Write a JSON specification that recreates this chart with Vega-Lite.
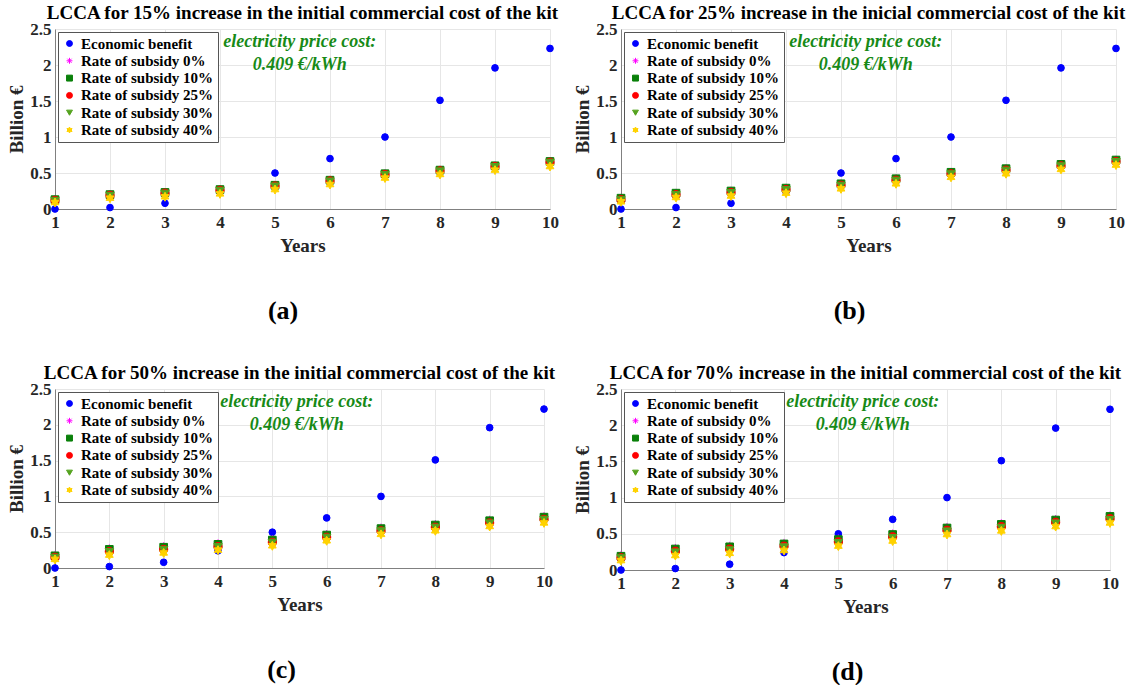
{
  "$schema": "https://vega.github.io/schema/vega-lite/v6.json",
  "background": "white",
  "padding": {"left": 7, "top": 4, "right": 0, "bottom": 0},
  "datasets": {
    "pts": [
      {"panel": "a", "year": 1, "Economic benefit": 0.0, "Rate of subsidy 0%": 0.14, "Rate of subsidy 10%": 0.13, "Rate of subsidy 25%": 0.12, "Rate of subsidy 30%": 0.11, "Rate of subsidy 40%": 0.09},
      {"panel": "a", "year": 2, "Economic benefit": 0.02, "Rate of subsidy 0%": 0.21, "Rate of subsidy 10%": 0.2, "Rate of subsidy 25%": 0.19, "Rate of subsidy 30%": 0.18, "Rate of subsidy 40%": 0.15},
      {"panel": "a", "year": 3, "Economic benefit": 0.08, "Rate of subsidy 0%": 0.24, "Rate of subsidy 10%": 0.23, "Rate of subsidy 25%": 0.22, "Rate of subsidy 30%": 0.21, "Rate of subsidy 40%": 0.17},
      {"panel": "a", "year": 4, "Economic benefit": 0.24, "Rate of subsidy 0%": 0.28, "Rate of subsidy 10%": 0.27, "Rate of subsidy 25%": 0.26, "Rate of subsidy 30%": 0.25, "Rate of subsidy 40%": 0.21},
      {"panel": "a", "year": 5, "Economic benefit": 0.5, "Rate of subsidy 0%": 0.34, "Rate of subsidy 10%": 0.33, "Rate of subsidy 25%": 0.32, "Rate of subsidy 30%": 0.31, "Rate of subsidy 40%": 0.27},
      {"panel": "a", "year": 6, "Economic benefit": 0.7, "Rate of subsidy 0%": 0.41, "Rate of subsidy 10%": 0.4, "Rate of subsidy 25%": 0.39, "Rate of subsidy 30%": 0.38, "Rate of subsidy 40%": 0.34},
      {"panel": "a", "year": 7, "Economic benefit": 1.0, "Rate of subsidy 0%": 0.5, "Rate of subsidy 10%": 0.49, "Rate of subsidy 25%": 0.48, "Rate of subsidy 30%": 0.47, "Rate of subsidy 40%": 0.43},
      {"panel": "a", "year": 8, "Economic benefit": 1.51, "Rate of subsidy 0%": 0.55, "Rate of subsidy 10%": 0.54, "Rate of subsidy 25%": 0.53, "Rate of subsidy 30%": 0.52, "Rate of subsidy 40%": 0.48},
      {"panel": "a", "year": 9, "Economic benefit": 1.96, "Rate of subsidy 0%": 0.61, "Rate of subsidy 10%": 0.6, "Rate of subsidy 25%": 0.59, "Rate of subsidy 30%": 0.58, "Rate of subsidy 40%": 0.54},
      {"panel": "a", "year": 10, "Economic benefit": 2.23, "Rate of subsidy 0%": 0.67, "Rate of subsidy 10%": 0.66, "Rate of subsidy 25%": 0.65, "Rate of subsidy 30%": 0.64, "Rate of subsidy 40%": 0.59},
      {"panel": "b", "year": 1, "Economic benefit": 0.0, "Rate of subsidy 0%": 0.16, "Rate of subsidy 10%": 0.15, "Rate of subsidy 25%": 0.13, "Rate of subsidy 30%": 0.12, "Rate of subsidy 40%": 0.1},
      {"panel": "b", "year": 2, "Economic benefit": 0.02, "Rate of subsidy 0%": 0.23, "Rate of subsidy 10%": 0.22, "Rate of subsidy 25%": 0.2, "Rate of subsidy 30%": 0.19, "Rate of subsidy 40%": 0.16},
      {"panel": "b", "year": 3, "Economic benefit": 0.08, "Rate of subsidy 0%": 0.26, "Rate of subsidy 10%": 0.25, "Rate of subsidy 25%": 0.23, "Rate of subsidy 30%": 0.22, "Rate of subsidy 40%": 0.18},
      {"panel": "b", "year": 4, "Economic benefit": 0.24, "Rate of subsidy 0%": 0.3, "Rate of subsidy 10%": 0.29, "Rate of subsidy 25%": 0.27, "Rate of subsidy 30%": 0.26, "Rate of subsidy 40%": 0.22},
      {"panel": "b", "year": 5, "Economic benefit": 0.5, "Rate of subsidy 0%": 0.36, "Rate of subsidy 10%": 0.35, "Rate of subsidy 25%": 0.33, "Rate of subsidy 30%": 0.32, "Rate of subsidy 40%": 0.28},
      {"panel": "b", "year": 6, "Economic benefit": 0.7, "Rate of subsidy 0%": 0.43, "Rate of subsidy 10%": 0.42, "Rate of subsidy 25%": 0.4, "Rate of subsidy 30%": 0.39, "Rate of subsidy 40%": 0.35},
      {"panel": "b", "year": 7, "Economic benefit": 1.0, "Rate of subsidy 0%": 0.52, "Rate of subsidy 10%": 0.51, "Rate of subsidy 25%": 0.49, "Rate of subsidy 30%": 0.48, "Rate of subsidy 40%": 0.44},
      {"panel": "b", "year": 8, "Economic benefit": 1.51, "Rate of subsidy 0%": 0.57, "Rate of subsidy 10%": 0.56, "Rate of subsidy 25%": 0.54, "Rate of subsidy 30%": 0.53, "Rate of subsidy 40%": 0.49},
      {"panel": "b", "year": 9, "Economic benefit": 1.96, "Rate of subsidy 0%": 0.63, "Rate of subsidy 10%": 0.62, "Rate of subsidy 25%": 0.6, "Rate of subsidy 30%": 0.59, "Rate of subsidy 40%": 0.55},
      {"panel": "b", "year": 10, "Economic benefit": 2.23, "Rate of subsidy 0%": 0.69, "Rate of subsidy 10%": 0.68, "Rate of subsidy 25%": 0.66, "Rate of subsidy 30%": 0.65, "Rate of subsidy 40%": 0.61},
      {"panel": "c", "year": 1, "Economic benefit": 0.0, "Rate of subsidy 0%": 0.19, "Rate of subsidy 10%": 0.17, "Rate of subsidy 25%": 0.15, "Rate of subsidy 30%": 0.14, "Rate of subsidy 40%": 0.12},
      {"panel": "c", "year": 2, "Economic benefit": 0.02, "Rate of subsidy 0%": 0.28, "Rate of subsidy 10%": 0.26, "Rate of subsidy 25%": 0.23, "Rate of subsidy 30%": 0.22, "Rate of subsidy 40%": 0.18},
      {"panel": "c", "year": 3, "Economic benefit": 0.08, "Rate of subsidy 0%": 0.31, "Rate of subsidy 10%": 0.29, "Rate of subsidy 25%": 0.26, "Rate of subsidy 30%": 0.25, "Rate of subsidy 40%": 0.21},
      {"panel": "c", "year": 4, "Economic benefit": 0.24, "Rate of subsidy 0%": 0.35, "Rate of subsidy 10%": 0.33, "Rate of subsidy 25%": 0.3, "Rate of subsidy 30%": 0.29, "Rate of subsidy 40%": 0.25},
      {"panel": "c", "year": 5, "Economic benefit": 0.5, "Rate of subsidy 0%": 0.41, "Rate of subsidy 10%": 0.39, "Rate of subsidy 25%": 0.36, "Rate of subsidy 30%": 0.35, "Rate of subsidy 40%": 0.31},
      {"panel": "c", "year": 6, "Economic benefit": 0.7, "Rate of subsidy 0%": 0.48, "Rate of subsidy 10%": 0.46, "Rate of subsidy 25%": 0.43, "Rate of subsidy 30%": 0.42, "Rate of subsidy 40%": 0.38},
      {"panel": "c", "year": 7, "Economic benefit": 1.0, "Rate of subsidy 0%": 0.57, "Rate of subsidy 10%": 0.55, "Rate of subsidy 25%": 0.52, "Rate of subsidy 30%": 0.51, "Rate of subsidy 40%": 0.47},
      {"panel": "c", "year": 8, "Economic benefit": 1.51, "Rate of subsidy 0%": 0.62, "Rate of subsidy 10%": 0.6, "Rate of subsidy 25%": 0.57, "Rate of subsidy 30%": 0.56, "Rate of subsidy 40%": 0.52},
      {"panel": "c", "year": 9, "Economic benefit": 1.96, "Rate of subsidy 0%": 0.68, "Rate of subsidy 10%": 0.66, "Rate of subsidy 25%": 0.63, "Rate of subsidy 30%": 0.62, "Rate of subsidy 40%": 0.58},
      {"panel": "c", "year": 10, "Economic benefit": 2.22, "Rate of subsidy 0%": 0.73, "Rate of subsidy 10%": 0.71, "Rate of subsidy 25%": 0.68, "Rate of subsidy 30%": 0.67, "Rate of subsidy 40%": 0.63},
      {"panel": "d", "year": 1, "Economic benefit": 0.0, "Rate of subsidy 0%": 0.21, "Rate of subsidy 10%": 0.19, "Rate of subsidy 25%": 0.17, "Rate of subsidy 30%": 0.16, "Rate of subsidy 40%": 0.13},
      {"panel": "d", "year": 2, "Economic benefit": 0.02, "Rate of subsidy 0%": 0.31, "Rate of subsidy 10%": 0.29, "Rate of subsidy 25%": 0.26, "Rate of subsidy 30%": 0.24, "Rate of subsidy 40%": 0.2},
      {"panel": "d", "year": 3, "Economic benefit": 0.08, "Rate of subsidy 0%": 0.34, "Rate of subsidy 10%": 0.32, "Rate of subsidy 25%": 0.29, "Rate of subsidy 30%": 0.27, "Rate of subsidy 40%": 0.23},
      {"panel": "d", "year": 4, "Economic benefit": 0.24, "Rate of subsidy 0%": 0.38, "Rate of subsidy 10%": 0.36, "Rate of subsidy 25%": 0.33, "Rate of subsidy 30%": 0.31, "Rate of subsidy 40%": 0.27},
      {"panel": "d", "year": 5, "Economic benefit": 0.5, "Rate of subsidy 0%": 0.44, "Rate of subsidy 10%": 0.42, "Rate of subsidy 25%": 0.39, "Rate of subsidy 30%": 0.37, "Rate of subsidy 40%": 0.33},
      {"panel": "d", "year": 6, "Economic benefit": 0.7, "Rate of subsidy 0%": 0.51, "Rate of subsidy 10%": 0.49, "Rate of subsidy 25%": 0.46, "Rate of subsidy 30%": 0.44, "Rate of subsidy 40%": 0.4},
      {"panel": "d", "year": 7, "Economic benefit": 1.0, "Rate of subsidy 0%": 0.6, "Rate of subsidy 10%": 0.58, "Rate of subsidy 25%": 0.55, "Rate of subsidy 30%": 0.53, "Rate of subsidy 40%": 0.49},
      {"panel": "d", "year": 8, "Economic benefit": 1.51, "Rate of subsidy 0%": 0.65, "Rate of subsidy 10%": 0.63, "Rate of subsidy 25%": 0.6, "Rate of subsidy 30%": 0.58, "Rate of subsidy 40%": 0.54},
      {"panel": "d", "year": 9, "Economic benefit": 1.96, "Rate of subsidy 0%": 0.71, "Rate of subsidy 10%": 0.69, "Rate of subsidy 25%": 0.66, "Rate of subsidy 30%": 0.64, "Rate of subsidy 40%": 0.6},
      {"panel": "d", "year": 10, "Economic benefit": 2.22, "Rate of subsidy 0%": 0.76, "Rate of subsidy 10%": 0.74, "Rate of subsidy 25%": 0.71, "Rate of subsidy 30%": 0.69, "Rate of subsidy 40%": 0.65}
    ]
  },
  "columns": 2,
  "spacing": {"column": 14, "row": 40},
  "concat": [
    {
      "title": {"text": "(a)", "orient": "bottom", "anchor": "middle", "fontSize": 26, "offset": 43},
      "vconcat": [{
        "width": 495, "height": 180,
        "title": "LCCA for 15% increase in the initial commercial cost of the kit",
        "layer": [
          {
            "data": {"name": "pts"},
            "transform": [{"filter": "datum.panel === 'a'"}, {"fold": ["Economic benefit", "Rate of subsidy 0%", "Rate of subsidy 10%", "Rate of subsidy 25%", "Rate of subsidy 30%", "Rate of subsidy 40%"], "as": ["series", "value"]}],
            "mark": {"type": "point", "strokeWidth": 1, "opacity": 1, "clip": false},
            "encoding": {
              "x": {"field": "year", "type": "quantitative", "scale": {"domain": [1, 10], "nice": false, "zero": false}, "axis": {"values": [1, 2, 3, 4, 5, 6, 7, 8, 9, 10], "format": "d", "title": "Years"}},
              "y": {"field": "value", "type": "quantitative", "scale": {"domain": [0, 2.5], "nice": false}, "axis": {"values": [0, 0.5, 1, 1.5, 2, 2.5], "format": "~g", "title": "Billion €"}},
              "fill": {"field": "series", "type": "nominal", "scale": {"domain": ["Economic benefit", "Rate of subsidy 0%", "Rate of subsidy 10%", "Rate of subsidy 25%", "Rate of subsidy 30%", "Rate of subsidy 40%"], "range": ["#0000ff", "#ff00ff", "#0a800a", "#ff0000", "#55a31f", "#ffd200"]}, "legend": {"title": null}},
              "stroke": {"field": "series", "type": "nominal", "scale": {"domain": ["Economic benefit", "Rate of subsidy 0%", "Rate of subsidy 10%", "Rate of subsidy 25%", "Rate of subsidy 30%", "Rate of subsidy 40%"], "range": ["#0000ff", "#ff00ff", "#0a800a", "#ff0000", "#55a31f", "#ffd200"]}, "legend": {"title": null}},
              "shape": {"field": "series", "type": "nominal", "scale": {"domain": ["Economic benefit", "Rate of subsidy 0%", "Rate of subsidy 10%", "Rate of subsidy 25%", "Rate of subsidy 30%", "Rate of subsidy 40%"], "range": ["circle", "M-1,0L1,0M0,-1L0,1M-0.7,-0.7L0.7,0.7M-0.7,0.7L0.7,-0.7", "square", "circle", "triangle-down", "M0,-1L0.289,-0.5L0.866,-0.5L0.577,0L0.866,0.5L0.289,0.5L0,1L-0.289,0.5L-0.866,0.5L-0.577,0L-0.866,-0.5L-0.289,-0.5Z"]}, "legend": {"title": null}},
              "size": {"field": "series", "type": "nominal", "scale": {"domain": ["Economic benefit", "Rate of subsidy 0%", "Rate of subsidy 10%", "Rate of subsidy 25%", "Rate of subsidy 30%", "Rate of subsidy 40%"], "range": [45, 80, 36, 45, 45, 90]}, "legend": null}
            }
          },
          {"data": {"values": [{}]}, "mark": {"type": "text", "font": "Liberation Serif", "fontStyle": "italic", "fontWeight": "bold", "fontSize": 18, "color": "#178a17", "align": "center", "baseline": "middle"}, "encoding": {"x": {"datum": 5.45, "type": "quantitative", "axis": {"values": [1, 2, 3, 4, 5, 6, 7, 8, 9, 10], "format": "d", "title": "Years"}}, "y": {"datum": 2.32, "type": "quantitative", "axis": {"values": [0, 0.5, 1, 1.5, 2, 2.5], "format": "~g", "title": "Billion €"}}, "text": {"value": "electricity price cost:"}}},
          {"data": {"values": [{}]}, "mark": {"type": "text", "font": "Liberation Serif", "fontStyle": "italic", "fontWeight": "bold", "fontSize": 18, "color": "#178a17", "align": "center", "baseline": "middle"}, "encoding": {"x": {"datum": 5.45, "type": "quantitative", "axis": {"values": [1, 2, 3, 4, 5, 6, 7, 8, 9, 10], "format": "d", "title": "Years"}}, "y": {"datum": 2.0, "type": "quantitative", "axis": {"values": [0, 0.5, 1, 1.5, 2, 2.5], "format": "~g", "title": "Billion €"}}, "text": {"value": "0.409 €/kWh"}}}
        ]
      }],
      "resolve": {"legend": {"fill": "independent", "stroke": "independent", "shape": "independent"}}
    },
    {
      "title": {"text": "(b)", "orient": "bottom", "anchor": "middle", "fontSize": 26, "offset": 43},
      "vconcat": [{
        "width": 495, "height": 180,
        "title": "LCCA for 25% increase in the inicial commercial cost of the kit",
        "layer": [
          {
            "data": {"name": "pts"},
            "transform": [{"filter": "datum.panel === 'b'"}, {"fold": ["Economic benefit", "Rate of subsidy 0%", "Rate of subsidy 10%", "Rate of subsidy 25%", "Rate of subsidy 30%", "Rate of subsidy 40%"], "as": ["series", "value"]}],
            "mark": {"type": "point", "strokeWidth": 1, "opacity": 1, "clip": false},
            "encoding": {
              "x": {"field": "year", "type": "quantitative", "scale": {"domain": [1, 10], "nice": false, "zero": false}, "axis": {"values": [1, 2, 3, 4, 5, 6, 7, 8, 9, 10], "format": "d", "title": "Years"}},
              "y": {"field": "value", "type": "quantitative", "scale": {"domain": [0, 2.5], "nice": false}, "axis": {"values": [0, 0.5, 1, 1.5, 2, 2.5], "format": "~g", "title": "Billion €"}},
              "fill": {"field": "series", "type": "nominal", "scale": {"domain": ["Economic benefit", "Rate of subsidy 0%", "Rate of subsidy 10%", "Rate of subsidy 25%", "Rate of subsidy 30%", "Rate of subsidy 40%"], "range": ["#0000ff", "#ff00ff", "#0a800a", "#ff0000", "#55a31f", "#ffd200"]}, "legend": {"title": null}},
              "stroke": {"field": "series", "type": "nominal", "scale": {"domain": ["Economic benefit", "Rate of subsidy 0%", "Rate of subsidy 10%", "Rate of subsidy 25%", "Rate of subsidy 30%", "Rate of subsidy 40%"], "range": ["#0000ff", "#ff00ff", "#0a800a", "#ff0000", "#55a31f", "#ffd200"]}, "legend": {"title": null}},
              "shape": {"field": "series", "type": "nominal", "scale": {"domain": ["Economic benefit", "Rate of subsidy 0%", "Rate of subsidy 10%", "Rate of subsidy 25%", "Rate of subsidy 30%", "Rate of subsidy 40%"], "range": ["circle", "M-1,0L1,0M0,-1L0,1M-0.7,-0.7L0.7,0.7M-0.7,0.7L0.7,-0.7", "square", "circle", "triangle-down", "M0,-1L0.289,-0.5L0.866,-0.5L0.577,0L0.866,0.5L0.289,0.5L0,1L-0.289,0.5L-0.866,0.5L-0.577,0L-0.866,-0.5L-0.289,-0.5Z"]}, "legend": {"title": null}},
              "size": {"field": "series", "type": "nominal", "scale": {"domain": ["Economic benefit", "Rate of subsidy 0%", "Rate of subsidy 10%", "Rate of subsidy 25%", "Rate of subsidy 30%", "Rate of subsidy 40%"], "range": [45, 80, 36, 45, 45, 90]}, "legend": null}
            }
          },
          {"data": {"values": [{}]}, "mark": {"type": "text", "font": "Liberation Serif", "fontStyle": "italic", "fontWeight": "bold", "fontSize": 18, "color": "#178a17", "align": "center", "baseline": "middle"}, "encoding": {"x": {"datum": 5.45, "type": "quantitative", "axis": {"values": [1, 2, 3, 4, 5, 6, 7, 8, 9, 10], "format": "d", "title": "Years"}}, "y": {"datum": 2.32, "type": "quantitative", "axis": {"values": [0, 0.5, 1, 1.5, 2, 2.5], "format": "~g", "title": "Billion €"}}, "text": {"value": "electricity price cost:"}}},
          {"data": {"values": [{}]}, "mark": {"type": "text", "font": "Liberation Serif", "fontStyle": "italic", "fontWeight": "bold", "fontSize": 18, "color": "#178a17", "align": "center", "baseline": "middle"}, "encoding": {"x": {"datum": 5.45, "type": "quantitative", "axis": {"values": [1, 2, 3, 4, 5, 6, 7, 8, 9, 10], "format": "d", "title": "Years"}}, "y": {"datum": 2.0, "type": "quantitative", "axis": {"values": [0, 0.5, 1, 1.5, 2, 2.5], "format": "~g", "title": "Billion €"}}, "text": {"value": "0.409 €/kWh"}}}
        ]
      }],
      "resolve": {"legend": {"fill": "independent", "stroke": "independent", "shape": "independent"}}
    },
    {
      "title": {"text": "(c)", "orient": "bottom", "anchor": "middle", "fontSize": 26, "offset": 43},
      "vconcat": [{
        "width": 489, "height": 179,
        "title": "LCCA for 50% increase in the initial commercial cost of the kit",
        "layer": [
          {
            "data": {"name": "pts"},
            "transform": [{"filter": "datum.panel === 'c'"}, {"fold": ["Economic benefit", "Rate of subsidy 0%", "Rate of subsidy 10%", "Rate of subsidy 25%", "Rate of subsidy 30%", "Rate of subsidy 40%"], "as": ["series", "value"]}],
            "mark": {"type": "point", "strokeWidth": 1, "opacity": 1, "clip": false},
            "encoding": {
              "x": {"field": "year", "type": "quantitative", "scale": {"domain": [1, 10], "nice": false, "zero": false}, "axis": {"values": [1, 2, 3, 4, 5, 6, 7, 8, 9, 10], "format": "d", "title": "Years"}},
              "y": {"field": "value", "type": "quantitative", "scale": {"domain": [0, 2.5], "nice": false}, "axis": {"values": [0, 0.5, 1, 1.5, 2, 2.5], "format": "~g", "title": "Billion €"}},
              "fill": {"field": "series", "type": "nominal", "scale": {"domain": ["Economic benefit", "Rate of subsidy 0%", "Rate of subsidy 10%", "Rate of subsidy 25%", "Rate of subsidy 30%", "Rate of subsidy 40%"], "range": ["#0000ff", "#ff00ff", "#0a800a", "#ff0000", "#55a31f", "#ffd200"]}, "legend": {"title": null}},
              "stroke": {"field": "series", "type": "nominal", "scale": {"domain": ["Economic benefit", "Rate of subsidy 0%", "Rate of subsidy 10%", "Rate of subsidy 25%", "Rate of subsidy 30%", "Rate of subsidy 40%"], "range": ["#0000ff", "#ff00ff", "#0a800a", "#ff0000", "#55a31f", "#ffd200"]}, "legend": {"title": null}},
              "shape": {"field": "series", "type": "nominal", "scale": {"domain": ["Economic benefit", "Rate of subsidy 0%", "Rate of subsidy 10%", "Rate of subsidy 25%", "Rate of subsidy 30%", "Rate of subsidy 40%"], "range": ["circle", "M-1,0L1,0M0,-1L0,1M-0.7,-0.7L0.7,0.7M-0.7,0.7L0.7,-0.7", "square", "circle", "triangle-down", "M0,-1L0.289,-0.5L0.866,-0.5L0.577,0L0.866,0.5L0.289,0.5L0,1L-0.289,0.5L-0.866,0.5L-0.577,0L-0.866,-0.5L-0.289,-0.5Z"]}, "legend": {"title": null}},
              "size": {"field": "series", "type": "nominal", "scale": {"domain": ["Economic benefit", "Rate of subsidy 0%", "Rate of subsidy 10%", "Rate of subsidy 25%", "Rate of subsidy 30%", "Rate of subsidy 40%"], "range": [45, 80, 36, 45, 45, 90]}, "legend": null}
            }
          },
          {"data": {"values": [{}]}, "mark": {"type": "text", "font": "Liberation Serif", "fontStyle": "italic", "fontWeight": "bold", "fontSize": 18, "color": "#178a17", "align": "center", "baseline": "middle"}, "encoding": {"x": {"datum": 5.45, "type": "quantitative", "axis": {"values": [1, 2, 3, 4, 5, 6, 7, 8, 9, 10], "format": "d", "title": "Years"}}, "y": {"datum": 2.32, "type": "quantitative", "axis": {"values": [0, 0.5, 1, 1.5, 2, 2.5], "format": "~g", "title": "Billion €"}}, "text": {"value": "electricity price cost:"}}},
          {"data": {"values": [{}]}, "mark": {"type": "text", "font": "Liberation Serif", "fontStyle": "italic", "fontWeight": "bold", "fontSize": 18, "color": "#178a17", "align": "center", "baseline": "middle"}, "encoding": {"x": {"datum": 5.45, "type": "quantitative", "axis": {"values": [1, 2, 3, 4, 5, 6, 7, 8, 9, 10], "format": "d", "title": "Years"}}, "y": {"datum": 2.0, "type": "quantitative", "axis": {"values": [0, 0.5, 1, 1.5, 2, 2.5], "format": "~g", "title": "Billion €"}}, "text": {"value": "0.409 €/kWh"}}}
        ]
      }],
      "resolve": {"legend": {"fill": "independent", "stroke": "independent", "shape": "independent"}}
    },
    {
      "title": {"text": "(d)", "orient": "bottom", "anchor": "middle", "fontSize": 26, "offset": 43},
      "vconcat": [{
        "width": 489, "height": 181,
        "title": "LCCA for 70% increase in the initial commercial cost of the kit",
        "layer": [
          {
            "data": {"name": "pts"},
            "transform": [{"filter": "datum.panel === 'd'"}, {"fold": ["Economic benefit", "Rate of subsidy 0%", "Rate of subsidy 10%", "Rate of subsidy 25%", "Rate of subsidy 30%", "Rate of subsidy 40%"], "as": ["series", "value"]}],
            "mark": {"type": "point", "strokeWidth": 1, "opacity": 1, "clip": false},
            "encoding": {
              "x": {"field": "year", "type": "quantitative", "scale": {"domain": [1, 10], "nice": false, "zero": false}, "axis": {"values": [1, 2, 3, 4, 5, 6, 7, 8, 9, 10], "format": "d", "title": "Years"}},
              "y": {"field": "value", "type": "quantitative", "scale": {"domain": [0, 2.5], "nice": false}, "axis": {"values": [0, 0.5, 1, 1.5, 2, 2.5], "format": "~g", "title": "Billion €"}},
              "fill": {"field": "series", "type": "nominal", "scale": {"domain": ["Economic benefit", "Rate of subsidy 0%", "Rate of subsidy 10%", "Rate of subsidy 25%", "Rate of subsidy 30%", "Rate of subsidy 40%"], "range": ["#0000ff", "#ff00ff", "#0a800a", "#ff0000", "#55a31f", "#ffd200"]}, "legend": {"title": null}},
              "stroke": {"field": "series", "type": "nominal", "scale": {"domain": ["Economic benefit", "Rate of subsidy 0%", "Rate of subsidy 10%", "Rate of subsidy 25%", "Rate of subsidy 30%", "Rate of subsidy 40%"], "range": ["#0000ff", "#ff00ff", "#0a800a", "#ff0000", "#55a31f", "#ffd200"]}, "legend": {"title": null}},
              "shape": {"field": "series", "type": "nominal", "scale": {"domain": ["Economic benefit", "Rate of subsidy 0%", "Rate of subsidy 10%", "Rate of subsidy 25%", "Rate of subsidy 30%", "Rate of subsidy 40%"], "range": ["circle", "M-1,0L1,0M0,-1L0,1M-0.7,-0.7L0.7,0.7M-0.7,0.7L0.7,-0.7", "square", "circle", "triangle-down", "M0,-1L0.289,-0.5L0.866,-0.5L0.577,0L0.866,0.5L0.289,0.5L0,1L-0.289,0.5L-0.866,0.5L-0.577,0L-0.866,-0.5L-0.289,-0.5Z"]}, "legend": {"title": null}},
              "size": {"field": "series", "type": "nominal", "scale": {"domain": ["Economic benefit", "Rate of subsidy 0%", "Rate of subsidy 10%", "Rate of subsidy 25%", "Rate of subsidy 30%", "Rate of subsidy 40%"], "range": [45, 80, 36, 45, 45, 90]}, "legend": null}
            }
          },
          {"data": {"values": [{}]}, "mark": {"type": "text", "font": "Liberation Serif", "fontStyle": "italic", "fontWeight": "bold", "fontSize": 18, "color": "#178a17", "align": "center", "baseline": "middle"}, "encoding": {"x": {"datum": 5.45, "type": "quantitative", "axis": {"values": [1, 2, 3, 4, 5, 6, 7, 8, 9, 10], "format": "d", "title": "Years"}}, "y": {"datum": 2.32, "type": "quantitative", "axis": {"values": [0, 0.5, 1, 1.5, 2, 2.5], "format": "~g", "title": "Billion €"}}, "text": {"value": "electricity price cost:"}}},
          {"data": {"values": [{}]}, "mark": {"type": "text", "font": "Liberation Serif", "fontStyle": "italic", "fontWeight": "bold", "fontSize": 18, "color": "#178a17", "align": "center", "baseline": "middle"}, "encoding": {"x": {"datum": 5.45, "type": "quantitative", "axis": {"values": [1, 2, 3, 4, 5, 6, 7, 8, 9, 10], "format": "d", "title": "Years"}}, "y": {"datum": 2.0, "type": "quantitative", "axis": {"values": [0, 0.5, 1, 1.5, 2, 2.5], "format": "~g", "title": "Billion €"}}, "text": {"value": "0.409 €/kWh"}}}
        ]
      }],
      "resolve": {"legend": {"fill": "independent", "stroke": "independent", "shape": "independent"}}
    }
  ],
  "resolve": {"legend": {"fill": "independent", "stroke": "independent", "shape": "independent"}},
  "config": {
    "view": {"stroke": null},
    "font": "Liberation Serif",
    "title": {"font": "Liberation Serif", "fontWeight": "bold", "fontSize": 19, "color": "#000000", "offset": -3},
    "axis": {
      "labelFont": "Liberation Serif", "labelFontWeight": "bold", "labelFontSize": 17, "labelColor": "#262626",
      "titleFont": "Liberation Serif", "titleFontWeight": "bold", "titleFontSize": 19, "titleColor": "#262626",
      "gridColor": "#e6e6e6", "gridWidth": 1, "domainColor": "#808080", "domainWidth": 1,
      "ticks": false, "labelPadding": 5, "titlePadding": 6, "labelFlush": false, "labelOverlap": false
    },
    "axisY": {"titlePadding": 3.5, "labelPadding": 4},
    "legend": {
      "orient": "top-left", "offset": 3, "padding": 4, "strokeColor": "#555555", "fillColor": "white",
      "labelFont": "Liberation Serif", "labelFontWeight": "bold", "labelFontSize": 15, "labelColor": "#000000",
      "symbolSize": 35, "symbolStrokeWidth": 1, "rowPadding": 1.3, "labelOffset": 4, "cornerRadius": 0, "labelLimit": 300
    }
  }
}
